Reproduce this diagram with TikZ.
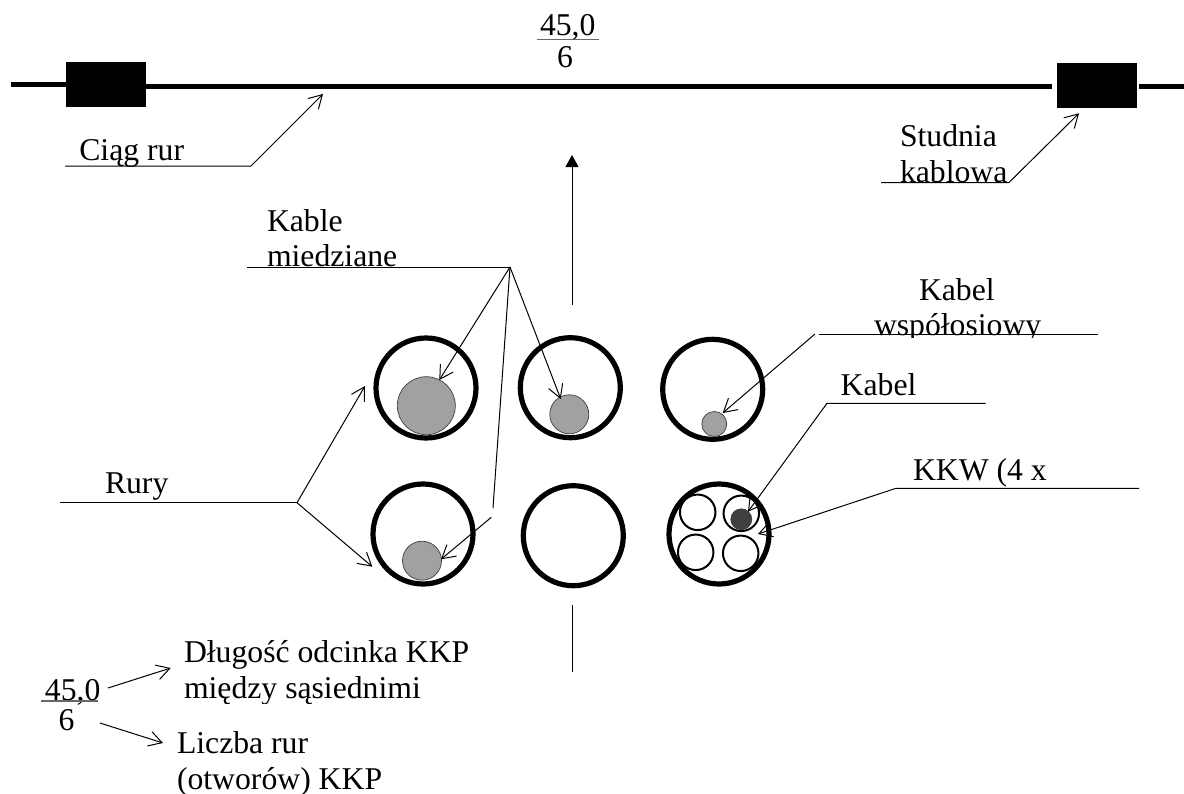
\documentclass[tikz,border=0pt]{standalone}
\usepackage{fontspec}
\setmainfont{Liberation Serif}
\usetikzlibrary{arrows.meta}
\tikzset{
 lbl/.style={anchor=base west,inner sep=0pt,outer sep=0pt,font=\fontsize{31.7}{36}\selectfont},
 pipe/.style={circle,draw=black,line width=5.2pt,fill=white,minimum size=100pt,inner sep=0pt,outer sep=0pt},
 duct/.style={circle,draw=black,line width=2pt,fill=white,minimum size=35.5pt,inner sep=0pt,outer sep=0pt},
 cable/.style={circle,draw=black!75,line width=0.7pt,fill=black!37,inner sep=0pt,outer sep=0pt},
 well/.style={rectangle,fill=black,minimum width=80pt,minimum height=45pt,inner sep=0pt,outer sep=0pt},
 lead/.style={draw=black,line width=1pt},
 barb/.style={lead,-{Straight Barb[length=13pt,width=15pt,line width=1pt]}},
 trunk/.style={draw=black,line width=5.5pt},
 fracrule/.style={draw=black!60,line width=1.5pt}
}
\begin{document}
\begin{tikzpicture}[x=1pt,y=-1pt]
\useasboundingbox[fill=white] (0,0) rectangle (1184,793);
% trunk
\node[well] (wellL) at (106,84.5) {};
\node[well] (wellR) at (1097,85.5) {};
\coordinate (trunkA) at (11,84.5);
\coordinate (trunkM) at (146,86.5);
\coordinate (trunkB) at (1052,86.5);
\coordinate (trunkD) at (1139,86.5);
\coordinate (trunkC) at (1184,86.5);
\draw[trunk] (trunkA) -- (wellL.west |- trunkA);
\draw[trunk] (trunkM) -- (trunkB);
\draw[trunk] (trunkD) -- (trunkC);
% top fraction
\node[lbl] (topnum) at (540,35) {45,0};
\node[lbl] (topden) at (557,67.7) {6};
\coordinate (topa) at (537,39.7); \coordinate (topb) at (599,39.7);
\draw[fracrule] (topa) -- (topb);
% axis
\coordinate (axA) at (572,305); \coordinate (axB) at (572,155);
\coordinate (axC) at (572,605); \coordinate (axD) at (572,672);
\draw[lead,-{Triangle[length=12pt,width=13pt]}] (axA) -- (axB);
\draw[lead] (axC) -- (axD);
% pipes
\node[pipe] (p1) at (426,388) {};
\node[pipe] (p2) at (570.3,387.7) {};
\node[pipe] (p3) at (712.7,389.3) {};
\node[pipe] (p4) at (423,534) {};
\node[pipe] (p5) at (573.3,535.7) {};
\node[pipe] (p6) at (719,534) {};
\node[cable,minimum size=58pt] (c1) at (426.3,405.7) {};
\node[cable,minimum size=39pt] (c2) at (569.3,414.3) {};
\node[cable,minimum size=25pt] (c3) at (714.3,424) {};
\node[cable,minimum size=39pt] (c4) at (422,560.7) {};
\node[duct] (d1) at (697.7,512.3) {};
\node[duct] (d2) at (741.3,513.3) {};
\node[duct] (d3) at (695.7,552.3) {};
\node[duct] (d4) at (740.7,553.3) {};
\node[cable,minimum size=21pt,fill=black!75] (c5) at (741.3,519.3) {};
% Ciag rur
\node[lbl] (tCiag) at (79.3,160.7) {Ciąg rur};
\coordinate (a1) at (65,166); \coordinate (a2) at (251,166); \coordinate (a3) at (323,94);
\draw[barb] (a1) -- (a2) -- (a3);
% Studnia
\node[lbl] (tStud) at (900,146.7) {Studnia};
\node[lbl] (tKab) at (900,182.7) {kablowa};
\coordinate (b1) at (881,182.5); \coordinate (b2) at (1009,182.5); \coordinate (b3) at (1079,113.3);
\draw[barb] (b1) -- (b2) -- (b3);
% Kable miedziane
\node[lbl] (tKable) at (267,231.7) {Kable};
\node[lbl] (tMied) at (267,266.7) {miedziane};
\coordinate (k1) at (247,267); \coordinate (k2) at (510,267);
\coordinate (k3) at (439.3,380); \coordinate (k4) at (560.7,399);
\coordinate (k5) at (493,508);
\coordinate (k6) at (491.3,517.3); \coordinate (k7) at (441,559.3);
\draw[lead] (k1) -- (k2);
\draw[barb] (k2) -- (k3);
\draw[barb] (k2) -- (k4);
\draw[lead] (k2) -- (k5);
\draw[barb] (k6) -- (k7);
% Kabel wspolosiowy
\node[lbl] (tKw) at (919,300) {Kabel};
\begin{scope}
\clip (860,300) rectangle (1060,337);
\node[lbl] (tWsp) at (874,335) {współosiowy};
\end{scope}
\coordinate (w1) at (1098,334.6); \coordinate (w0) at (819,334.6);
\coordinate (w2) at (815,334); \coordinate (w3) at (722.7,413);
\draw[lead] (w1) -- (w0);
\draw[barb] (w2) -- (w3);
% Kabel
\node[lbl] (tK) at (840.7,395) {Kabel};
\coordinate (m1) at (985.7,403.3); \coordinate (m2) at (827,403.3); \coordinate (m3) at (748,511.7);
\draw[barb] (m1) -- (m2) -- (m3);
% KKW
\node[lbl] (tKKW) at (913,480) {KKW (4 x};
\coordinate (n1) at (1139,488.3); \coordinate (n2) at (896,488.3); \coordinate (n3) at (758,534);
\draw[barb] (n1) -- (n2) -- (n3);
% Rury
\node[lbl] (tRury) at (105,493.3) {Rury};
\coordinate (r1) at (60,502.7); \coordinate (r2) at (297,502.7);
\coordinate (r3) at (365,386); \coordinate (r4) at (372.3,566.7);
\draw[lead] (r1) -- (r2);
\draw[barb] (r2) -- (r3);
\draw[barb] (r2) -- (r4);
% legend
\node[lbl] (lnum) at (45,700) {45,0};
\node[lbl] (lden) at (58.5,730) {6};
\coordinate (la) at (41,701); \coordinate (lb) at (98,701);
\draw[fracrule] (la) -- (lb);
\begin{scope}
\clip (180,630) rectangle (520,703);
\node[lbl] (tDl) at (184,662) {Długość odcinka KKP};
\node[lbl] (tMd) at (184,698) {między sąsiednimi};
\end{scope}
\node[lbl] (tLi) at (177,753) {Liczba rur};
\node[lbl] (tOt) at (177,789.3) {(otworów) KKP};
\coordinate (q1) at (108,688); \coordinate (q2) at (170.7,668);
\coordinate (q3) at (100,723); \coordinate (q4) at (163,743);
\draw[barb] (q1) -- (q2);
\draw[barb] (q3) -- (q4);
\end{tikzpicture}
\end{document}
